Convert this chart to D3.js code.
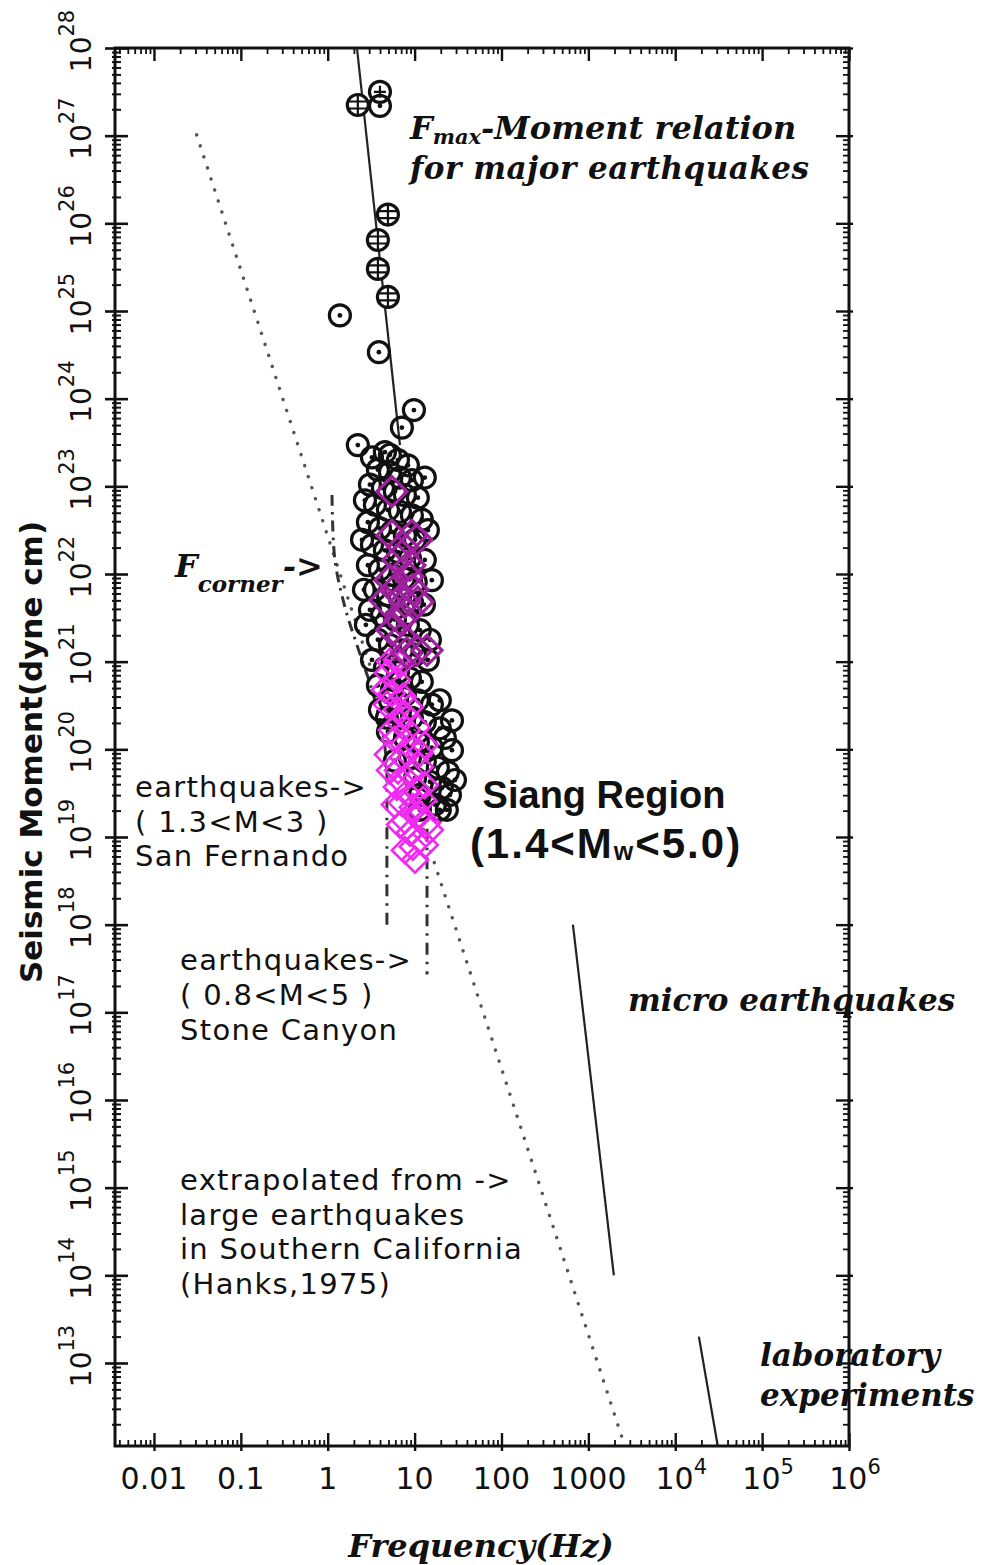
<!DOCTYPE html>
<html>
<head>
<meta charset="utf-8">
<script src="https://cdn.jsdelivr.net/npm/d3@7"></script>
<style>
  body { margin: 0; background: #fff; }
  svg { display: block; }
</style>
</head>
<body>
<svg id="chart" width="982" height="1565"></svg>
<script>
// ------ Data: frequency in Hz, seismic moment given as log10(dyne cm)
var xTickValues = [0.01, 0.1, 1, 10, 100, 1000, 1e4, 1e5, 1e6];
var xTickLabels = ["0.01", "0.1", "1", "10", "100", "1000", "10^4", "10^5", "10^6"];
var yExponents = [13, 14, 15, 16, 17, 18, 19, 20, 21, 22, 23, 24, 25, 26, 27, 28];

// major earthquakes (circles with grid / cross)
var circleGrid = [[2.22, 27.35], [4.93, 26.10], [3.78, 25.81], [3.78, 25.48], [4.93, 25.16]];
var circlePlus = [[3.99, 27.50]];
// earthquakes (circle with centre dot)
var circleDot = [
  [3.99, 27.34], [1.38, 24.95], [3.88, 24.53], [9.82, 23.87], [7.14, 23.67], [2.22, 23.47],
  [3.23, 23.33], [4.55, 23.39], [6.43, 23.30], [8.37, 23.24], [3.78, 23.19], [5.20, 23.16],
  [6.78, 23.10], [9.31, 23.07], [3.06, 23.02], [4.32, 22.98], [5.93, 22.94], [7.73, 22.90],
  [10.9, 22.87], [3.49, 22.79], [4.93, 22.73], [6.78, 22.71], [9.31, 22.67], [12.1, 22.62],
  [2.90, 22.59], [3.99, 22.52], [5.48, 22.48], [7.73, 22.44], [10.1, 22.39], [3.23, 22.33],
  [4.55, 22.27], [6.43, 22.25], [8.83, 22.18], [13.1, 22.16], [2.90, 22.10], [3.99, 22.05],
  [5.48, 21.99], [7.53, 21.95], [10.3, 21.91], [3.49, 21.82], [4.93, 21.76], [6.78, 21.73],
  [9.31, 21.68], [12.8, 21.65], [3.06, 21.59], [4.21, 21.53], [5.93, 21.48], [8.37, 21.42],
  [11.5, 21.36], [3.78, 21.25], [5.20, 21.19], [7.14, 21.13], [10.1, 21.08], [14.2, 21.02],
  [4.55, 20.93], [6.43, 20.88], [8.83, 20.81], [12.1, 20.77], [5.48, 20.68], [7.73, 20.62],
  [10.9, 20.56], [15.8, 20.51], [6.78, 20.43], [9.31, 20.36], [13.1, 20.31], [19.5, 20.24],
  [4.93, 20.20], [7.73, 20.13], [10.9, 20.08], [15.8, 20.02], [22.3, 20.13], [8.83, 19.90],
  [13.1, 19.86], [18.5, 19.79], [24.2, 19.74], [10.1, 19.67], [15.0, 19.63], [20.6, 19.56],
  [25.5, 19.48], [11.5, 19.48], [17.1, 19.37], [23.5, 19.31], [5.20, 20.56], [4.80, 20.36],
  [2.68, 22.84], [2.48, 22.39], [2.61, 21.82], [2.75, 21.42], [3.23, 21.02], [3.78, 20.73],
  [15.0, 21.25], [15.8, 21.93], [14.2, 22.50], [13.1, 23.10], [5.20, 23.36], [19.5, 20.56],
  [26.9, 19.99], [29.1, 19.65], [19.5, 19.31], [5.93, 19.87], [3.99, 20.45], [26.9, 20.33],
  [11.5, 19.31]
];
// Siang region events, larger (dark) and smaller (bright) magnitudes
var diamondDark = [
  [5.48, 22.94], [5.48, 22.44], [9.31, 22.44], [7.33, 22.31], [10.6, 22.39], [6.43, 22.16],
  [8.83, 22.10], [5.20, 21.93], [8.37, 21.97], [5.93, 21.82], [9.55, 21.82], [4.55, 21.70],
  [7.73, 21.68], [10.9, 21.68], [8.37, 21.56], [6.78, 21.48], [5.48, 21.36], [7.14, 21.28],
  [13.9, 21.13], [10.6, 21.13], [8.15, 21.10]
];
var diamondBright = [
  [5.20, 21.00], [6.78, 20.97], [4.93, 20.87], [6.25, 20.79], [5.48, 20.64], [7.33, 20.60],
  [4.80, 20.51], [6.25, 20.45], [8.83, 20.48], [6.78, 20.30], [8.15, 20.22], [10.6, 20.25],
  [5.93, 20.11], [8.83, 20.03], [4.93, 19.94], [7.33, 19.91], [11.5, 19.96], [6.43, 19.76],
  [8.83, 19.73], [11.5, 19.80], [6.25, 19.57], [8.15, 19.50], [10.6, 19.54], [7.14, 19.39],
  [9.55, 19.34], [12.5, 19.42], [7.73, 19.19], [10.6, 19.23], [13.9, 19.16], [8.83, 19.05],
  [15.0, 19.08], [11.5, 18.97], [9.55, 18.89], [10.1, 18.74],
  [4.55, 20.68], [5.48, 20.22], [7.73, 20.40], [13.1, 20.05], [5.20, 19.76], [6.78, 19.65],
  [13.1, 19.59], [5.93, 19.37], [11.5, 19.25], [6.78, 19.14], [13.1, 18.91], [7.73, 18.85],
  [6.25, 21.02]
];

// reference lines
var fmaxLine = [[2.17, 28.0], [6.78, 23.47]];
var extrapLine = [[0.031, 27.01], [2630, 12.05]];
var fcornerLine = [[1.12, 22.90], [1.21, 22.16], [1.58, 21.62], [2.22, 21.16], [3.31, 20.64], [4.43, 20.11], [4.80, 19.76]];
var sanFernandoLine = [[4.80, 19.76], [4.80, 17.94]];
var stoneCanyonLine = [[13.9, 19.42], [13.9, 17.43]];
var microLine = [[664, 18.0], [1965, 14.0]];
var labLine = [[18700, 13.30], [30900, 12.05]];

// ------ Sizes
var plotLeft = 115, plotRight = 849, plotTop = 48, plotBottom = 1446;
var xMin = 0.00356, yMinExp = 12.053;

var svg = d3.select("#chart");

var x = d3.scaleLog().domain([xMin, 1e6]).range([plotLeft, plotRight]);
var y = d3.scaleLog().domain([Math.pow(10, yMinExp), 1e28]).range([plotBottom, plotTop]);
var px = function(d) { return x(d[0]); };
var py = function(d) { return y(Math.pow(10, d[1])); };

// minor tick values (2..9 in each decade)
var xMinor = [], yMinor = [];
for (var e = -3; e < 6; e++) for (var m = 2; m <= 9; m++) {
  var v = m * Math.pow(10, e);
  if (v > xMin && v < 1e6) xMinor.push(v);
}
for (var e2 = 12; e2 < 28; e2++) for (var m2 = 2; m2 <= 9; m2++) {
  var v2 = m2 * Math.pow(10, e2);
  if (v2 > Math.pow(10, yMinExp) && v2 < 1e28) yMinor.push(v2);
}
var yMajor = yExponents.map(function(k) { return Math.pow(10, k); });

function drawTicks(axisGen, transform, size, values, width) {
  var g = svg.append("g")
    .attr("transform", transform)
    .call(axisGen.tickValues(values).tickSize(size).tickFormat(""));
  g.select(".domain").remove();
  g.selectAll("line").attr("stroke", "#111").attr("stroke-width", width);
}

// left axis
drawTicks(d3.axisLeft(y), "translate(" + plotLeft + ",0)", 10, yMajor, 2.6);
drawTicks(d3.axisRight(y), "translate(" + plotLeft + ",0)", 13, yMajor, 2.6);
drawTicks(d3.axisLeft(y), "translate(" + plotLeft + ",0)", 3, yMinor, 2);
drawTicks(d3.axisRight(y), "translate(" + plotLeft + ",0)", 6, yMinor, 2);
// right axis
drawTicks(d3.axisLeft(y), "translate(" + plotRight + ",0)", 13, yMajor, 2.4);
drawTicks(d3.axisRight(y), "translate(" + plotRight + ",0)", 4, yMajor, 2.4);
drawTicks(d3.axisLeft(y), "translate(" + plotRight + ",0)", 6, yMinor, 1.8);
// top axis
drawTicks(d3.axisBottom(x), "translate(0," + plotTop + ")", 13, xTickValues, 2.4);
drawTicks(d3.axisBottom(x), "translate(0," + plotTop + ")", 6, xMinor, 1.8);
// bottom axis
drawTicks(d3.axisTop(x), "translate(0," + plotBottom + ")", 13, xTickValues, 2.4);
drawTicks(d3.axisBottom(x), "translate(0," + plotBottom + ")", 5, xTickValues, 2.4);
drawTicks(d3.axisTop(x), "translate(0," + plotBottom + ")", 6, xMinor, 1.8);

svg.append("rect")
  .attr("x", plotLeft).attr("y", plotTop)
  .attr("width", plotRight - plotLeft).attr("height", plotBottom - plotTop)
  .attr("fill", "none").attr("stroke", "#111").attr("stroke-width", 3);

// ------ text helper: parts are strings, or {t, sub} / {t, sup}
function addText(x0, y0, parts, size, family, opts) {
  opts = opts || {};
  var t = svg.append("text")
    .attr("x", x0).attr("y", y0)
    .attr("text-anchor", opts.anchor || "start")
    .style("font-family", family)
    .style("font-size", size + "px")
    .style("font-style", opts.italic ? "italic" : "normal")
    .style("font-weight", opts.bold ? "bold" : "normal")
    .style("letter-spacing", (opts.spacing || 0) + "px")
    .attr("fill", opts.fill || "#111");
  if (opts.transform) t.attr("transform", opts.transform);
  var cur = 0;
  parts.forEach(function(p) {
    if (typeof p === "string") p = {t: p};
    var off = p.sub ? (p.shift || size * 0.35) : p.sup ? -(p.shift || size * 0.5) : 0;
    var s = (p.sub || p.sup) ? (p.size || size * 0.65) : size;
    t.append("tspan").attr("dy", off - cur).style("font-size", s + "px").text(p.t);
    cur = off;
  });
  return t;
}

var sansFont = "'DejaVu Sans', sans-serif";
var serifFont = "'DejaVu Serif', serif";
var arialFont = "'Liberation Sans', Arial, sans-serif";

// y tick labels
yExponents.forEach(function(k) {
  addText(0, 0, ["10", {t: String(k), sup: true, size: 21, shift: 17}], 28, sansFont,
    {anchor: "middle", transform: "translate(91," + (y(Math.pow(10, k)) - 7) + ") rotate(-90)"});
});
// x tick labels
xTickValues.forEach(function(v, i) {
  var lab = xTickLabels[i].split("^");
  var parts = lab.length > 1 ? [lab[0], {t: lab[1], sup: true, size: 21, shift: 15}] : [lab[0]];
  addText(x(v) + (lab.length > 1 ? 6 : 0), 1489, parts, 30, sansFont, {anchor: "middle"});
});

// axis titles
addText(0, 0, ["Seismic Moment(dyne cm)"], 31, sansFont,
  {anchor: "middle", bold: true, transform: "translate(42,752) rotate(-90)"});
addText(481, 1557, ["Frequency(Hz)"], 32, serifFont, {anchor: "middle", italic: true, bold: true});

// ------ lines
var line = d3.line().x(px).y(py);

svg.append("path").datum(extrapLine).attr("d", line)
  .attr("fill", "none").attr("stroke", "#555").attr("stroke-width", 3.4)
  .attr("stroke-linecap", "round").attr("stroke-dasharray", "0.1,11.5");

svg.append("path").datum(fcornerLine).attr("d", line.curve(d3.curveCatmullRom))
  .attr("fill", "none").attr("stroke", "#333").attr("stroke-width", 3)
  .attr("stroke-dasharray", "11,6,2.5,6");
line.curve(d3.curveLinear);

[sanFernandoLine, stoneCanyonLine].forEach(function(l) {
  svg.append("path").datum(l).attr("d", line)
    .attr("fill", "none").attr("stroke", "#333").attr("stroke-width", 3)
    .attr("stroke-dasharray", "12,7,2.5,7");
});

[fmaxLine, microLine, labLine].forEach(function(l) {
  svg.append("path").datum(l).attr("d", line)
    .attr("fill", "none").attr("stroke", "#222").attr("stroke-width", 2.2);
});

// ------ markers
var r = 10.5;
var gDot = svg.append("g").selectAll("g").data(circleDot).enter().append("g")
  .attr("transform", function(d) { return "translate(" + px(d) + "," + py(d) + ")"; });
gDot.append("circle").attr("r", r).attr("fill", "none").attr("stroke", "#111").attr("stroke-width", 3.2);
gDot.append("circle").attr("r", 2.4).attr("fill", "#111");

var gGrid = svg.append("g").selectAll("g").data(circleGrid).enter().append("g")
  .attr("transform", function(d) { return "translate(" + px(d) + "," + py(d) + ")"; });
gGrid.append("circle").attr("r", r).attr("fill", "#fff").attr("stroke", "#111").attr("stroke-width", 3.2);
gGrid.append("path")
  .attr("d", "M0,-10V10M-9.8,-3.5H9.8M-9.8,3.5H9.8")
  .attr("stroke", "#111").attr("stroke-width", 2.2);

var gPlus = svg.append("g").selectAll("g").data(circlePlus).enter().append("g")
  .attr("transform", function(d) { return "translate(" + px(d) + "," + py(d) + ")"; });
gPlus.append("circle").attr("r", r).attr("fill", "none").attr("stroke", "#111").attr("stroke-width", 3.2);
gPlus.append("path").attr("d", "M0,-6V6M-6,0H6").attr("stroke", "#111").attr("stroke-width", 2.2);

function diamond(s) { return "M0," + (-s) + "L" + s + ",0L0," + s + "L" + (-s) + ",0Z"; }

svg.append("g").selectAll("path").data(diamondBright).enter().append("path")
  .attr("d", diamond(13))
  .attr("transform", function(d) { return "translate(" + px(d) + "," + py(d) + ")"; })
  .attr("fill", "none").attr("stroke", "#f02af0").attr("stroke-width", 2.6);

svg.append("g").selectAll("path").data(diamondDark).enter().append("path")
  .attr("d", diamond(15))
  .attr("transform", function(d) { return "translate(" + px(d) + "," + py(d) + ")"; })
  .attr("fill", "none").attr("stroke", "#a0219f").attr("stroke-width", 3.2);

// ------ annotations
addText(410, 139, ["F", {t: "max", sub: true, size: 21, shift: 5}, "-Moment relation"], 32, serifFont, {italic: true, bold: true});
addText(410, 179, ["for major earthquakes"], 31, serifFont, {italic: true, bold: true, spacing: 0.5});
addText(175, 577, ["F", {t: "corner", sub: true, size: 23, shift: 15}, "->"], 32, serifFont, {italic: true, bold: true});

var noteSize = 29, noteSpacing = 1.3;
addText(135, 797, ["earthquakes->"], noteSize, sansFont, {spacing: noteSpacing});
addText(135, 831.5, ["( 1.3<M<3 )"], noteSize, sansFont, {spacing: noteSpacing});
addText(135, 866, ["San Fernando"], noteSize, sansFont, {spacing: noteSpacing});

addText(180, 970, ["earthquakes->"], noteSize, sansFont, {spacing: noteSpacing});
addText(180, 1005, ["( 0.8<M<5 )"], noteSize, sansFont, {spacing: noteSpacing});
addText(180, 1040, ["Stone Canyon"], noteSize, sansFont, {spacing: noteSpacing});

addText(180, 1190, ["extrapolated from ->"], noteSize, sansFont, {spacing: noteSpacing});
addText(180, 1224.5, ["large earthquakes"], noteSize, sansFont, {spacing: noteSpacing});
addText(180, 1259, ["in Southern California"], noteSize, sansFont, {spacing: noteSpacing});
addText(180, 1293.5, ["(Hanks,1975)"], noteSize, sansFont, {spacing: noteSpacing});

addText(604, 808, ["Siang Region"], 38, arialFont, {anchor: "middle", bold: true});
addText(606, 858, ["(1.4<M", {t: "w", sub: true, size: 25, shift: 2}, "<5.0)"], 42, arialFont,
  {anchor: "middle", bold: true, spacing: 2});

addText(628, 1011, ["micro earthquakes"], 31, serifFont, {italic: true, bold: true});
addText(760, 1366, ["laboratory"], 31, serifFont, {italic: true, bold: true});
addText(760, 1406, ["experiments"], 31, serifFont, {italic: true, bold: true});
</script>
</body>
</html>
